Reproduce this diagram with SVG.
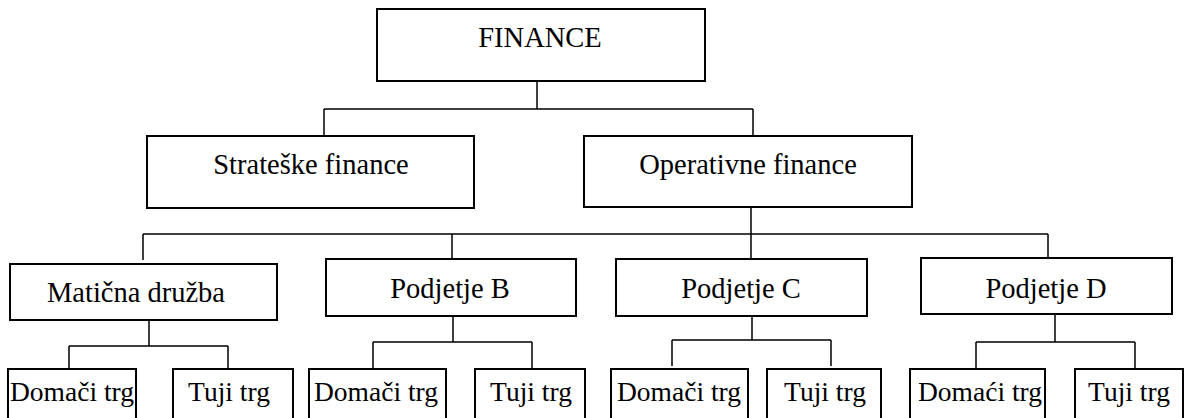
<svg xmlns="http://www.w3.org/2000/svg" width="1187" height="418" viewBox="0 0 1187 418">
  <style>
    .box { fill: #ffffff; stroke: #000000; stroke-width: 2; }
    .lbl { font-family: "Liberation Serif", "Times New Roman", serif; font-size: 28.5px; fill: #000000; text-anchor: middle; }
    .sm { font-size: 27.5px; }
    .wire { fill: none; stroke: #000000; stroke-width: 1.5; }
  </style>
  <rect width="1187" height="418" fill="#ffffff"/>

  <!-- connectors -->
  <g id="connectors" class="wire">
    <path d="M537 81 V109 M324 109 H753 M324 109 V136 M753 109 V136"/>
    <path d="M751 207 V234 M143 234 H1048 M143 234 V260 M452 234 V259 M751 234 V259 M1048 234 V258"/>
    <path d="M149 320 V346 M69 346 H228 M69 346 V370 M228 346 V370"/>
    <path d="M453 316 V342 M373 342 H532 M373 342 V369 M532 342 V369"/>
    <path d="M752 316 V340 M672 340 H831 M672 340 V366 M831 340 V366"/>
    <path d="M1055 314 V342 M976 342 H1135 M976 342 V368 M1135 342 V368"/>
  </g>

  <g id="finance">
    <rect class="box" x="377" y="9" width="328" height="72"/>
    <text class="lbl" x="540" y="47">FINANCE</text>
  </g>

  <g id="strateske">
    <rect class="box" x="147" y="136" width="327" height="72"/>
    <text class="lbl" x="311" y="174">Strateške finance</text>
  </g>

  <g id="operativne">
    <rect class="box" x="584" y="136" width="328" height="71"/>
    <text class="lbl" x="748" y="174">Operativne finance</text>
  </g>

  <g id="maticna">
    <rect class="box" x="10" y="264" width="267" height="56"/>
    <text class="lbl" x="136" y="302">Matična družba</text>
  </g>

  <g id="podjetje-b">
    <rect class="box" x="326" y="259" width="250" height="57"/>
    <text class="lbl" x="450" y="298">Podjetje B</text>
  </g>

  <g id="podjetje-c">
    <rect class="box" x="616" y="259" width="251" height="57"/>
    <text class="lbl" x="741" y="298">Podjetje C</text>
  </g>

  <g id="podjetje-d">
    <rect class="box" x="921" y="258" width="251" height="56"/>
    <text class="lbl" x="1046" y="298">Podjetje D</text>
  </g>

  <!-- market boxes run off the bottom edge -->
  <g id="a-domaci">
    <rect class="box" x="8" y="369" width="128" height="60"/>
    <text class="lbl sm" x="72" y="401">Domači trg</text>
  </g>
  <g id="a-tuji">
    <rect class="box" x="173" y="369" width="120" height="60"/>
    <text class="lbl sm" x="229" y="401">Tuji trg</text>
  </g>

  <g id="b-domaci">
    <rect class="box" x="309" y="369" width="137" height="60"/>
    <text class="lbl sm" x="376" y="401">Domači trg</text>
  </g>
  <g id="b-tuji">
    <rect class="box" x="475" y="369" width="110" height="60"/>
    <text class="lbl sm" x="531" y="401">Tuji trg</text>
  </g>

  <g id="c-domaci">
    <rect class="box" x="611" y="369" width="137" height="60"/>
    <text class="lbl sm" x="679" y="401">Domači trg</text>
  </g>
  <g id="c-tuji">
    <rect class="box" x="767" y="369" width="114" height="60"/>
    <text class="lbl sm" x="825" y="401">Tuji trg</text>
  </g>

  <g id="d-domaci">
    <rect class="box" x="910" y="369" width="135" height="60"/>
    <text class="lbl sm" x="980" y="401">Domaći trg</text>
  </g>
  <g id="d-tuji">
    <rect class="box" x="1075" y="369" width="108" height="60"/>
    <text class="lbl sm" x="1129" y="401">Tuji trg</text>
  </g>
</svg>
